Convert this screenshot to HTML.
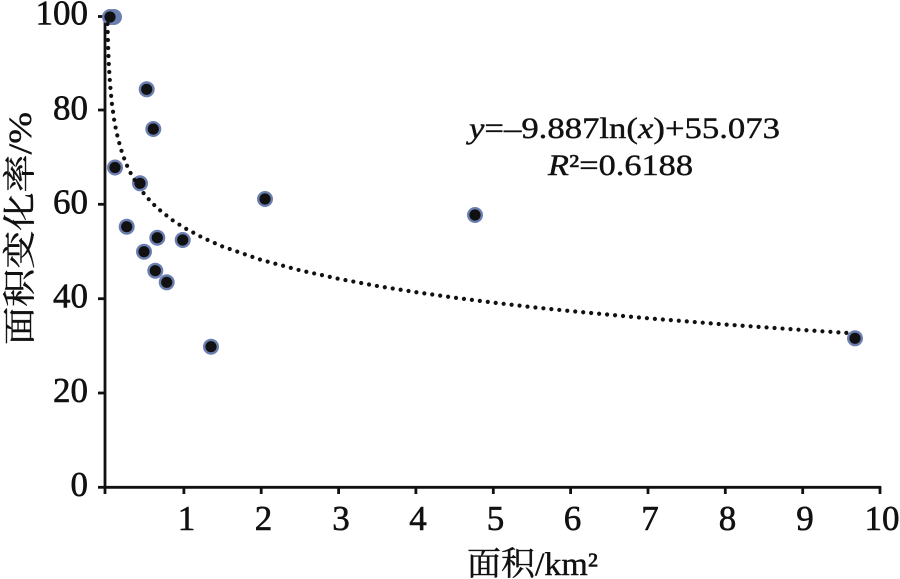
<!DOCTYPE html>
<html><head><meta charset="utf-8"><style>
html,body{margin:0;padding:0;background:#fff;}
svg{display:block;}
.num{font-family:"Liberation Serif","Times New Roman",serif;}
.cjk{font-family:"Liberation Serif","Noto Serif CJK SC",serif;}
</style></head><body>
<svg width="900" height="579" viewBox="0 0 900 579" xmlns="http://www.w3.org/2000/svg">
<rect width="900" height="579" fill="#fff"/>
<!-- axes -->
<g stroke="#111" stroke-width="2.8" fill="none">
<line x1="105" y1="14" x2="105" y2="488.6"/>
<line x1="103.7" y1="487.3" x2="881.3" y2="487.3"/>
<line x1="98" y1="487.3" x2="105" y2="487.3"/>
<line x1="98" y1="393.0" x2="105" y2="393.0"/>
<line x1="98" y1="298.7" x2="105" y2="298.7"/>
<line x1="98" y1="204.3" x2="105" y2="204.3"/>
<line x1="98" y1="110.0" x2="105" y2="110.0"/>
<line x1="98" y1="16.5" x2="105" y2="16.5"/>
<line x1="105" y1="487" x2="105" y2="494"/>
<line x1="183.9" y1="487" x2="183.9" y2="494"/>
<line x1="261.2" y1="487" x2="261.2" y2="494"/>
<line x1="338.6" y1="487" x2="338.6" y2="494"/>
<line x1="415.9" y1="487" x2="415.9" y2="494"/>
<line x1="493.3" y1="487" x2="493.3" y2="494"/>
<line x1="570.6" y1="487" x2="570.6" y2="494"/>
<line x1="648.0" y1="487" x2="648.0" y2="494"/>
<line x1="725.3" y1="487" x2="725.3" y2="494"/>
<line x1="802.7" y1="487" x2="802.7" y2="494"/>
<line x1="880" y1="487" x2="880" y2="494"/>
</g>
<!-- y tick labels -->
<g class="num" font-size="35" fill="#111" stroke="#111" stroke-width="0.6" text-anchor="end">
<text x="88" y="496">0</text>
<text x="88" y="402">20</text>
<text x="88" y="307.5">40</text>
<text x="88" y="213.5">60</text>
<text x="88" y="119.5">80</text>
<text x="88" y="24.5">100</text>
</g>
<!-- x tick labels -->
<g class="num" font-size="35" fill="#111" stroke="#111" stroke-width="0.6" text-anchor="middle">
<text x="186.5" y="530">1</text>
<text x="263.5" y="530">2</text>
<text x="341" y="530">3</text>
<text x="418" y="530">4</text>
<text x="495.5" y="530">5</text>
<text x="572.5" y="530">6</text>
<text x="650" y="530">7</text>
<text x="727.5" y="530">8</text>
<text x="805" y="530">9</text>
<text x="882" y="530">10</text>
</g>
<!-- axis titles -->
<text class="cjk" x="467" y="575" font-size="33" fill="#111" stroke="#111" stroke-width="0.4" textLength="131" lengthAdjust="spacingAndGlyphs">面积/km²</text>
<text class="cjk" transform="translate(31,228.5) rotate(-90)" x="0" y="0" text-anchor="middle" font-size="33" fill="#111" stroke="#111" stroke-width="0.4" textLength="233" lengthAdjust="spacingAndGlyphs">面积变化率/%</text>
<!-- equation -->
<g class="num" font-size="30" fill="#111" stroke="#111" stroke-width="0.4">
<text x="469" y="138" textLength="311" lengthAdjust="spacingAndGlyphs"><tspan font-style="italic">y</tspan>=–9.887ln(<tspan font-style="italic">x</tspan>)+55.073</text>
<text x="548" y="175" textLength="145" lengthAdjust="spacingAndGlyphs"><tspan font-style="italic">R</tspan>²=0.6188</text>
</g>
<!-- markers -->
<g>
<g fill="#6a7eb0">
<circle cx="114" cy="17" r="8"/>
<circle cx="110" cy="17" r="8"/>
<circle cx="115" cy="167.5" r="8"/>
<circle cx="140" cy="183.3" r="8"/>
<circle cx="146.7" cy="89.3" r="8"/>
<circle cx="153.3" cy="129" r="8"/>
<circle cx="126.7" cy="226.7" r="8"/>
<circle cx="157.3" cy="237.7" r="8"/>
<circle cx="182.7" cy="240" r="8"/>
<circle cx="144" cy="251.7" r="8"/>
<circle cx="155.3" cy="270.7" r="8"/>
<circle cx="166.7" cy="282.3" r="8"/>
<circle cx="211" cy="346.7" r="8"/>
<circle cx="265" cy="199" r="8"/>
<circle cx="475" cy="215" r="8"/>
<circle cx="855" cy="338.3" r="8"/>
</g>
<g fill="#111">
<circle cx="110" cy="17" r="5.6"/>
<circle cx="115" cy="167.5" r="5.6"/>
<circle cx="140" cy="183.3" r="5.6"/>
<circle cx="146.7" cy="89.3" r="5.6"/>
<circle cx="153.3" cy="129" r="5.6"/>
<circle cx="126.7" cy="226.7" r="5.6"/>
<circle cx="157.3" cy="237.7" r="5.6"/>
<circle cx="182.7" cy="240" r="5.6"/>
<circle cx="144" cy="251.7" r="5.6"/>
<circle cx="155.3" cy="270.7" r="5.6"/>
<circle cx="166.7" cy="282.3" r="5.6"/>
<circle cx="211" cy="346.7" r="5.6"/>
<circle cx="265" cy="199" r="5.6"/>
<circle cx="475" cy="215" r="5.6"/>
<circle cx="855" cy="338.3" r="5.6"/>
</g>
</g>
<!-- trend line -->
<polyline fill="none" stroke="#111" stroke-width="4.2" stroke-linecap="round" stroke-dasharray="0 8"
points="107.3,16 107.7,31.7 108.05,45.2 108.8,64.05 109.6,77.5 110.4,87.9 111.9,103.6 114.2,120.2 115.8,128.7 118.1,139.1 122,152.5 125.8,163 129.7,171.4 137.4,184.9 145.2,195.3 152.9,203.8 160.7,210.9 172.2,220 183.9,227.6 203.2,238 222.5,246.5 261.2,259.9 299.9,270.3 338.6,278.8 377.2,286 415.9,292.2 454.6,297.7 493.3,302.6 531.9,307.1 570.6,311.1 648,318.3 725.3,324.5 802.7,330 846.7,332.9"/>
</svg>
</body></html>
